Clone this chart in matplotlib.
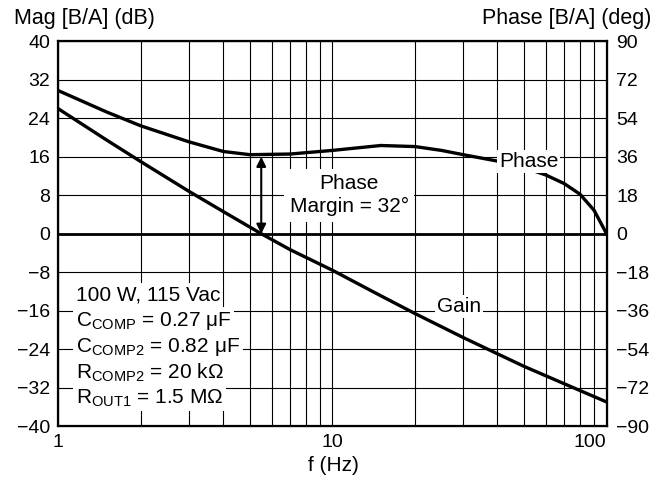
import matplotlib.pyplot as plt
from matplotlib.ticker import FixedLocator, NullFormatter

plt.rcParams["font.family"] = ["Liberation Sans", "DejaVu Sans"]
plt.rcParams["mathtext.fontset"] = "custom"
plt.rcParams["mathtext.rm"] = "Liberation Sans"
plt.rcParams["mathtext.it"] = "Liberation Sans:italic"

# gain curve, left axis (dB)
gain_freq = [1, 1.5, 2, 3, 4, 5.5, 7, 10, 15, 20, 30, 50, 70, 100]
gain_db = [26, 19.5, 15, 8.8, 4.6, 0, -3.3, -7.6, -12.9, -16.6, -21.6, -27.6, -31.2, -35]

# phase curve, right axis (deg)
phase_freq = [1, 1.5, 2, 3, 4, 5, 7, 10, 15, 20, 25, 30, 40, 50, 60, 70, 80, 90, 100]
phase_deg = [67, 57, 50.5, 43, 38.5, 37, 37.3, 39, 41.3, 40.8, 39, 37, 34, 31, 27.5, 23.5, 18.5, 11, 0]

mag_ticks = [-40, -32, -24, -16, -8, 0, 8, 16, 24, 32, 40]
phase_ticks = [-90, -72, -54, -36, -18, 0, 18, 36, 54, 72, 90]

crossover_freq = 5.5
margin_top_db = 16

notes = [
    "100 W, 115 Vac",
    r"C$_{\rm COMP}$ = 0.27 μF",
    r"C$_{\rm COMP2}$ = 0.82 μF",
    r"R$_{\rm COMP2}$ = 20 kΩ",
    r"R$_{\rm OUT1}$ = 1.5 MΩ",
]

FS = 14
FS_TXT = 15

fig = plt.figure(figsize=(6.63, 4.93), dpi=100)
ax = fig.add_axes([0.0879, 0.1359, 0.827, 0.78])
ax.set_xscale("log")
ax.set_xlim(1, 100)
ax.set_ylim(-40, 40)
ax.set_yticks(mag_ticks)
ax.xaxis.set_major_locator(FixedLocator([1, 10, 100]))
ax.xaxis.set_minor_locator(FixedLocator([2, 3, 4, 5, 6, 7, 8, 9,
                                         20, 30, 40, 50, 60, 70, 80, 90]))
ax.xaxis.set_minor_formatter(NullFormatter())
ax.set_xticklabels(["1", "10", "100"])
ax.get_xticklabels()[2].set_horizontalalignment("right")
ax.grid(True, which="both", color="black", linewidth=0.8)
ax.axhline(0, color="black", linewidth=2)
ax.tick_params(which="both", length=0, labelsize=FS, pad=6)
for s in ax.spines.values():
    s.set_linewidth(1.6)

ax.plot(gain_freq, gain_db, color="black", linewidth=2.4, zorder=3)

ax2 = ax.twinx()
ax2.set_ylim(-90, 90)
ax2.set_yticks(phase_ticks)
ax2.tick_params(length=0, labelsize=FS, pad=7)
ax2.plot(phase_freq, phase_deg, color="black", linewidth=2.4, zorder=3)
ax2.text(52, 34, "Phase", ha="center", va="center", fontsize=FS_TXT, zorder=5,
         bbox=dict(facecolor="white", edgecolor="none", pad=1.5))

ax.text(29, -15.2, "Gain", ha="center", va="center", fontsize=FS_TXT, zorder=5,
        bbox=dict(facecolor="white", edgecolor="none", pad=1.5))

ax.annotate("", xy=(crossover_freq, margin_top_db), xytext=(crossover_freq, 0),
            arrowprops=dict(arrowstyle="<|-|>", color="black", lw=1.5,
                            mutation_scale=14, shrinkA=0, shrinkB=0),
            zorder=6)
ax.text(11.5, 8.0, "Phase\nMargin = 32°", ha="center", va="center",
        fontsize=FS_TXT, linespacing=1.25, zorder=5,
        bbox=dict(facecolor="white", edgecolor="none", pad=4))

for i, line in enumerate(notes):
    ax.text(1.16, -12.8 - 5.35 * i, line, ha="left", va="center", fontsize=FS_TXT,
            zorder=5, bbox=dict(facecolor="white", edgecolor="none", pad=2))

fig.text(0.021, 0.963, "Mag [B/A] (dB)", ha="left", va="center", fontsize=15.5)
fig.text(0.983, 0.963, "Phase [B/A] (deg)", ha="right", va="center", fontsize=15.5)
fig.text(0.503, 0.055, "f (Hz)", ha="center", va="center", fontsize=FS_TXT)

fig.savefig("out.png", dpi=100)
